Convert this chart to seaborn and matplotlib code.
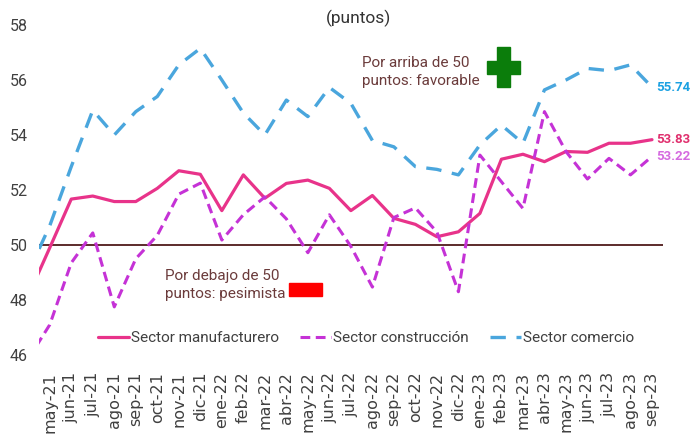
import matplotlib
matplotlib.use("Agg")
import matplotlib.pyplot as plt
from matplotlib import font_manager
from matplotlib.patches import Rectangle
import seaborn as sns
import pandas as pd

# meses (abr-21 queda fuera del eje, solo para que la línea entre desde el borde)
months = ['abr-21', 'may-21', 'jun-21', 'jul-21', 'ago-21', 'sep-21', 'oct-21', 'nov-21', 'dic-21',
          'ene-22', 'feb-22', 'mar-22', 'abr-22', 'may-22', 'jun-22', 'jul-22', 'ago-22', 'sep-22',
          'oct-22', 'nov-22', 'dic-22', 'ene-23', 'feb-23', 'mar-23', 'abr-23', 'may-23', 'jun-23',
          'jul-23', 'ago-23', 'sep-23']

manufacturero = [48.15, 49.9, 51.67, 51.78, 51.58, 51.58, 52.06, 52.7, 52.57, 51.25, 52.55, 51.7,
                 52.24, 52.36, 52.06, 51.25, 51.8, 50.97, 50.75, 50.3, 50.48, 51.15, 53.12, 53.3,
                 53.03, 53.4, 53.37, 53.7, 53.7, 53.83]
construccion = [45.86, 47.1, 49.35, 50.44, 47.75, 49.5, 50.35, 51.85, 52.25, 50.18, 51.1, 51.75,
                50.95, 49.72, 51.1, 49.95, 48.47, 51.0, 51.35, 50.47, 48.3, 53.27, 52.3, 51.33,
                54.85, 53.4, 52.4, 53.15, 52.55, 53.22]
comercio = [49.0, 50.7, 52.85, 54.9, 54.0, 54.85, 55.4, 56.55, 57.15, 56.0, 54.8, 54.0, 55.27,
            54.67, 55.73, 55.15, 53.8, 53.57, 52.85, 52.75, 52.55, 53.64, 54.36, 53.7, 55.64,
            56.0, 56.42, 56.34, 56.55, 55.74]

df = pd.DataFrame({'mes': range(len(months)), 'manufacturero': manufacturero,
                   'construccion': construccion, 'comercio': comercio})

sns.set_theme(style="white")
names = {f.name for f in font_manager.fontManager.ttflist}
main_font = next((n for n in ['Roboto', 'Liberation Sans'] if n in names), 'DejaVu Sans')
plt.rcParams['font.family'] = [main_font, 'DejaVu Sans']

W, H = 692, 440
fig = plt.figure(figsize=(W / 100, H / 100), dpi=100)
ax = fig.add_axes([39 / W, 85 / H, (662.75 - 39) / W, 330 / H])

c_man, c_con, c_com = '#E8338A', '#C532D6', '#4AA6DD'

sns.lineplot(data=df, x='mes', y='manufacturero', ax=ax, color=c_man, lw=2.3,
             label='Sector manufacturero')
sns.lineplot(data=df, x='mes', y='construccion', ax=ax, color=c_con, lw=2.2,
             linestyle=(0, (3.2, 1.8)), label='Sector construcción')
sns.lineplot(data=df, x='mes', y='comercio', ax=ax, color=c_com, lw=2.4,
             linestyle=(0, (4.6, 3.2)), label='Sector comercio')

ax.axhline(50, color='#5C2B2B', lw=1.4, zorder=1)

ax.set_xlim(0.5, len(months) - 0.5)
ax.set_ylim(46, 58)
ax.set_yticks(range(46, 59, 2))
ax.set_xticks(range(1, len(months)))
ax.set_xticklabels(months[1:], rotation=90, fontsize=11.5, color='#404040',
                   family=['DejaVu Sans'])
ax.tick_params(axis='y', labelsize=11.5, colors='#404040', pad=8, length=0)
ax.tick_params(axis='x', pad=12, length=0)
ax.set_xlabel('')
ax.set_ylabel('')
for s in ax.spines.values():
    s.set_visible(False)

# valores finales
last = len(months) - 1
for vals, col in [(comercio, '#1BA1E2'), (manufacturero, '#E0306E'), (construccion, '#D56BE0')]:
    ax.annotate(f'{vals[-1]:.2f}', (last, vals[-1]), xytext=(3, 0), textcoords='offset points',
                va='center', ha='left', color=col, fontsize=9.5, fontweight='bold',
                annotation_clip=False)

# textos y signos
fig.text(358 / W, 1 - 18 / H, '(puntos)', ha='center', va='center', fontsize=12.5, color='#333333')
fig.text(362 / W, 1 - 72 / H, 'Por arriba de 50\npuntos: favorable', ha='left', va='center',
         fontsize=11, color='#6B3B3B', linespacing=1.35)
fig.text(165 / W, 1 - 285 / H, 'Por debajo de 50\npuntos: pesimista', ha='left', va='center',
         fontsize=11, color='#6B3B3B', linespacing=1.35)

green = '#0B7D0B'
fig.patches.append(Rectangle((487 / W, 1 - 74 / H), 33 / W, 13 / H, color=green,
                             transform=fig.transFigure))
fig.patches.append(Rectangle((497 / W, 1 - 87 / H), 13 / W, 40 / H, color=green,
                             transform=fig.transFigure))
fig.patches.append(Rectangle((289 / W, 1 - 296 / H), 33 / W, 13 / H, color='#FF0000',
                             transform=fig.transFigure))

leg = ax.legend(loc='center', bbox_to_anchor=(366 / W, 1 - 338 / H), bbox_transform=fig.transFigure,
                ncol=3, frameon=False, fontsize=11, handlelength=2.0, handletextpad=0.15,
                columnspacing=1.4, labelcolor='#404040')

fig.savefig('out.png', dpi=100)
